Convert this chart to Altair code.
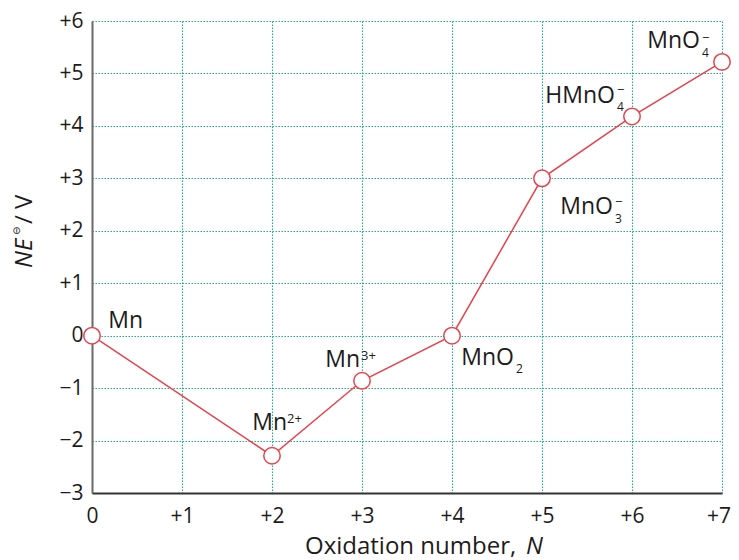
import altair as alt
import pandas as pd

# ---- data ----
oxidation = [0, 2, 3, 4, 5, 6, 7]
ne_values = [0.0, -2.29, -0.86, 0.0, 3.0, 4.18, 5.22]
species = ["Mn", "Mn2+", "Mn3+", "MnO2", "MnO3-", "HMnO4-", "MnO4-"]
main_text = ["Mn", "Mn", "Mn", "MnO", "MnO", "HMnO", "MnO"]
sub_text = ["", "", "", "2", "3", "4", "4"]
sup_text = ["", "2+", "3+", "", "\u2212", "\u2212", "\u2212"]
x_ticks = [0, 1, 2, 3, 4, 5, 6, 7]
y_ticks = [-3, -2, -1, 0, 1, 2, 3, 4, 5, 6]

df = pd.DataFrame({"N": oxidation, "NE": ne_values, "sp": species,
                   "main": main_text, "sub": sub_text, "sup": sup_text})

# ---- styling ----
FONT = "Open Sans"
TXT = "#1e1b1c"
RED = "#e8424c"
GRID = "#1fae86"
W = 500

# label offsets (px) relative to the point: main(right-aligned), sub, sup
offsets = {
    "Mn":     (51, -8, 0, 0, 0, 0),
    "Mn2+":   (15, -26, 0, 0, 15, -33),
    "Mn3+":   (-2, -14, 0, 0, -1, -21),
    "MnO2":   (62, 29, 64, 37, 0, 0),
    "MnO3-":  (71, 36, 73, 45, 73, 28),
    "HMnO4-": (-17, -13, -15, -5, -15, -22),
    "MnO4-":  (-22, -14, -20, -5, -20, -20),
}

sign_expr = ("datum.value > 0 ? '+' + datum.value : "
             "(datum.value < 0 ? '\u2212' + abs(datum.value) : '0')")
x_label_expr = "datum.value == %d ? '' : (%s)" % (x_ticks[-1], sign_expr)

x_enc = alt.X("N:Q", scale=alt.Scale(domain=[0, 7], nice=False, zero=False),
              axis=alt.Axis(values=x_ticks, labelExpr=x_label_expr, title=None,
                            grid=True, gridColor=GRID, gridDash=[1.5, 1.5], gridWidth=1.1,
                            domainColor="#333333", domainWidth=2, ticks=False, tickSize=0,
                            labelFont=FONT, labelFontSize=21, labelColor=TXT,
                            labelFontWeight=W,
                            labelPadding=12, labelFlush=False, labelOverlap=False))
y_enc = alt.Y("NE:Q", scale=alt.Scale(domain=[-3, 6], nice=False, zero=False),
              axis=alt.Axis(values=y_ticks, labelExpr=sign_expr, title=None,
                            grid=True, gridColor=GRID, gridDash=[1.5, 1.5], gridWidth=1.1,
                            domainColor="#6b6b6b", domainWidth=2, ticks=False, tickSize=0,
                            labelFont=FONT, labelFontSize=21, labelColor=TXT,
                            labelFontWeight=W,
                            labelPadding=9, labelFlush=False, labelOverlap=False))

base = alt.Chart(df)
line = base.mark_line(color=RED, strokeWidth=1.5).encode(x=x_enc, y=y_enc, order="N:Q")
pts = base.mark_point(shape="circle", size=270, filled=True, fill="white",
                      stroke=RED, strokeWidth=1.5, opacity=1).encode(x="N:Q", y="NE:Q")

layers = [line, pts]
for sp in species:
    mdx, mdy, sdx, sdy, pdx, pdy = offsets[sp]
    b = base.transform_filter(alt.datum.sp == sp)
    layers.append(b.mark_text(align="right", baseline="alphabetic", dx=mdx, dy=mdy,
                              font=FONT, fontSize=23, fontWeight=W, color=TXT)
                  .encode(x="N:Q", y="NE:Q", text="main:N"))
    row = df[df.sp == sp].iloc[0]
    if row["sub"]:
        layers.append(b.mark_text(align="left", baseline="alphabetic", dx=sdx, dy=sdy,
                                  font=FONT, fontSize=12, fontWeight=W, color=TXT)
                      .encode(x="N:Q", y="NE:Q", text="sub:N"))
    if row["sup"]:
        layers.append(b.mark_text(align="left", baseline="alphabetic", dx=pdx, dy=pdy,
                                  font=FONT, fontSize=13, fontWeight=W, color=TXT)
                      .encode(x="N:Q", y="NE:Q", text="sup:N"))

# last x tick label, kept inside the canvas
last_tick = pd.DataFrame({"t": [x_ticks[-1]], "lab": ["+%d" % x_ticks[-1]]})
layers.append(alt.Chart(last_tick).mark_text(align="right", baseline="alphabetic", dx=9,
                                             font=FONT, fontSize=21, fontWeight=W, color=TXT)
              .encode(x="t:Q", y=alt.value(502), text="lab:N"))

one = pd.DataFrame({"k": [0]})

def free_text(txt, x, y, **kw):
    return alt.Chart(one).mark_text(text=txt, **kw).encode(x=alt.value(x), y=alt.value(y))

# x-axis title
layers.append(free_text("Oxidation number, ", 213, 533, align="left", baseline="alphabetic",
                        font=FONT, fontSize=24, fontWeight=W, color=TXT))
layers.append(free_text("N", 434, 533, align="left", baseline="alphabetic",
                        font=FONT, fontSize=24, fontWeight=W, fontStyle="italic", color=TXT))
# y-axis title (rotated)
layers.append(free_text("NE", -60, 247, align="left", baseline="alphabetic", angle=270,
                        font=FONT, fontSize=24, fontWeight=W, fontStyle="italic", color=TXT))
layers.append(free_text("\u2296", -72, 214, align="left", baseline="alphabetic", angle=270,
                        font="DejaVu Sans", fontSize=10, color=TXT))
layers.append(free_text("/ V", -60, 203, align="left", baseline="alphabetic", angle=270,
                        font=FONT, fontSize=24, fontWeight=W, color=TXT))

chart = alt.layer(*layers).properties(
    width=630, height=472,
    autosize=alt.AutoSizeParams(type="none"),
    padding={"left": 84, "top": 13, "right": 9, "bottom": 67},
).configure_view(stroke=None)

chart.save("out.html", embed_options={"renderer": "svg", "actions": False})
